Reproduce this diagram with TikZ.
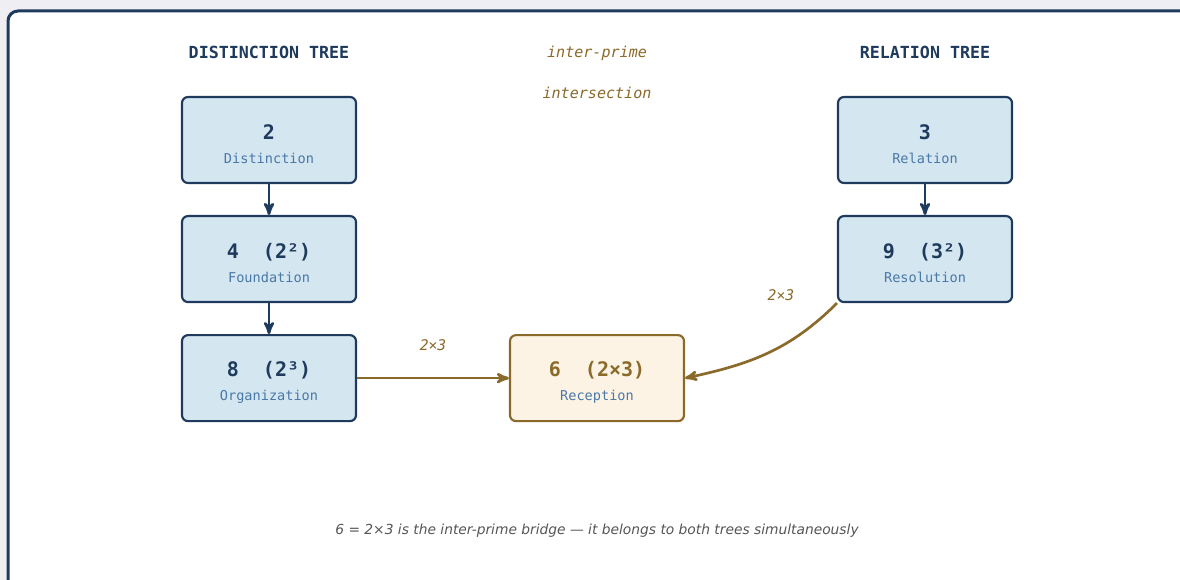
\documentclass[tikz,border=0pt]{standalone}
\usepackage{fontspec}
\setmainfont{DejaVu Sans}
\setsansfont{DejaVu Sans}
\setmonofont{DejaVu Sans Mono}
\usetikzlibrary{arrows,positioning}
\definecolor{navy}{HTML}{1E3A5C}
\definecolor{paleblue}{HTML}{D4E6F0}
\definecolor{labblue}{HTML}{4A78A8}
\definecolor{gold}{HTML}{8A6A2A}
\definecolor{cream}{HTML}{FDF3E4}
\definecolor{capgray}{HTML}{555555}
\definecolor{bggray}{HTML}{EFEFF3}
% number on top, name below
\newcommand{\primetext}[3][navy]{\rule{0pt}{17pt}{\bfseries\fontsize{15}{18}\selectfont\color{#1}#2}\\{\color{labblue}#3}}

\begin{document}
\begin{tikzpicture}
 [x=0.75pt, y=-0.75pt,
 prime/.style={
  rectangle,
  rounded corners=4.5pt,
  line width=1.6pt, % border
  draw=navy,
  fill=paleblue,
  minimum width=130.5pt,
  minimum height=64.5pt,
  inner sep=0pt,
  align=center,
  font=\ttfamily\fontsize{10.2}{18}\selectfont},
 bridge/.style={prime, draw=gold, fill=cream},
 head/.style={font=\ttfamily\bfseries\fontsize{12.5}{15}\selectfont, text=navy},
 note/.style={font=\ttfamily\itshape\fontsize{11.3}{13}\selectfont, text=gold},
 edgelab/.style={font=\ttfamily\itshape\fontsize{11}{13}\selectfont, text=gold},
 tip/.style={-stealth', line width=2pt, draw=navy},
 goldtip/.style={tip, draw=gold},
 node distance=23.2pt]
\useasboundingbox (0,0) rectangle (1180,580);
\fill[bggray] (0,0) rectangle (1180,580);
\draw[navy, line width=2.25pt, fill=white, rounded corners=7.5pt] (8,11) rectangle (1200,600);
\node (disthead) [head] at (269,52) {DISTINCTION TREE};
\node (relhead) [head] at (925,52) {RELATION TREE};
\node (inter) [note] at (597,53) {inter-prime};
\node (isect) [note] at (597,93) {intersection};
\node (dist) [prime] at (269,140) {\primetext{2}{Distinction}};
\node (found) [prime, below=of dist] {\primetext{4\ \ (2²)}{Foundation}};
\node (org) [prime, below=of found] {\primetext{8\ \ (2³)}{Organization}};
\node (recep) [bridge, right=113.9pt of org] {\primetext[gold]{6\ \ (2×3)}{Reception}};
\node (reln) [prime] at (925,140) {\primetext{3}{Relation}};
\node (resol) [prime, below=of reln] {\primetext{9\ \ (3²)}{Resolution}};
\node (caption) [font=\sffamily\itshape\fontsize{10.35}{12}\selectfont, text=capgray] at (597,531) {6 = 2×3 is the inter-prime bridge — it belongs to both trees simultaneously};
\draw[tip] (dist) -- (found);
\draw[tip] (found) -- (org);
\draw[tip] (reln) -- (resol);
\draw[goldtip] (org) -- node[edgelab, above=16.5pt] {2×3} (recep);
\draw[goldtip] (resol.south west) to[out=-135, in=12] node[edgelab, pos=0, xshift=-42pt, yshift=6pt] {2×3} (recep.east);
\end{tikzpicture}
\end{document}
